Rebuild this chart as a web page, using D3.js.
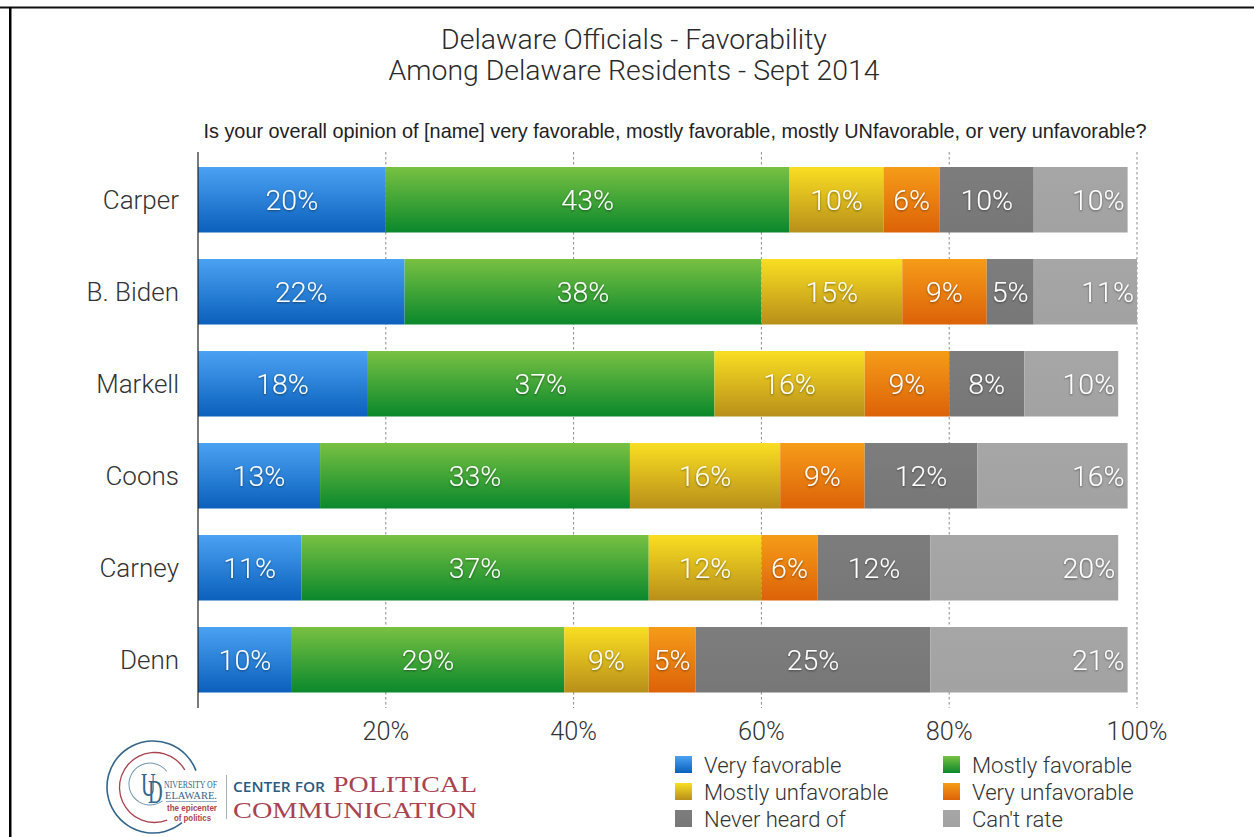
<!DOCTYPE html>
<html>
<head>
<meta charset="utf-8">
<script src="https://cdn.jsdelivr.net/npm/d3@7"></script>
<style>
html,body{margin:0;padding:0;background:#fff;overflow:hidden}
svg{display:block}
</style>
</head>
<body>
<svg id="chart" width="1254" height="837"></svg>
<script>
const names = ["Carper","B. Biden","Markell","Coons","Carney","Denn"];
const seriesNames = ["Very favorable","Mostly favorable","Mostly unfavorable","Very unfavorable","Never heard of","Can't rate"];
const veryFavorable = [20,22,18,13,11,10];
const mostlyFavorable = [43,38,37,33,37,29];
const mostlyUnfavorable = [10,15,16,16,12,9];
const veryUnfavorable = [6,9,9,9,6,5];
const neverHeard = [10,5,8,12,12,25];
const cantRate = [10,11,10,16,20,21];
const tickValues = [20,40,60,80,100];
const gradTop = ["#4ba2f3","#78c142","#fade22","#f69c18","#7d7d7d","#a6a6a6"];
const gradBot = ["#0a60bb","#0a882c","#b88f1a","#dc6208","#777777","#a2a2a2"];

const allSeries = [veryFavorable,mostlyFavorable,mostlyUnfavorable,veryUnfavorable,neverHeard,cantRate];
const rows = names.map((n,i)=>{
  let acc=0;
  return {name:n, segs:allSeries.map((s,k)=>{const d={k,v:s[i],x0:acc,x1:acc+s[i]};acc+=s[i];return d;})};
});

const svg = d3.select("#chart");
const thin = "Roboto, 'Liberation Sans', sans-serif";
const defs = svg.append("defs");
gradTop.forEach((c,i)=>{
  const g = defs.append("linearGradient").attr("id","g"+i).attr("x1",0).attr("x2",0).attr("y1",0).attr("y2",1);
  g.append("stop").attr("offset","0%").attr("stop-color",c);
  g.append("stop").attr("offset","100%").attr("stop-color",gradBot[i]);
});
const shadow = defs.append("filter").attr("id","ts").attr("x","-20%").attr("y","-20%").attr("width","140%").attr("height","140%");
shadow.append("feDropShadow").attr("dx",0).attr("dy",1).attr("stdDeviation",1).attr("flood-color","#000").attr("flood-opacity",0.45);

// frame
svg.append("rect").attr("x",0).attr("y",6.5).attr("width",1254).attr("height",2).attr("fill","#111");
svg.append("rect").attr("x",9).attr("y",7).attr("width",2.5).attr("height",830).attr("fill","#000");

// titles
const title = svg.append("g").attr("text-anchor","middle").attr("fill","#2a2a2a")
  .style("font-family",thin).style("font-weight",300).style("font-size","28.4px");
title.append("text").attr("x",634).attr("y",48.5).text("Delaware Officials - Favorability");
title.append("text").attr("x",634).attr("y",80).text("Among Delaware Residents - Sept 2014");
svg.append("text").attr("x",675).attr("y",138).attr("text-anchor","middle").attr("fill","#222")
  .style("font-family","'Liberation Sans', sans-serif").style("font-size","19.85px")
  .text("Is your overall opinion of [name] very favorable, mostly favorable, mostly UNfavorable, or very unfavorable?");

// scales
const x = d3.scaleLinear().domain([0,100]).range([198,1137]);
const y = d3.scaleBand().domain(names).range([152,707.5]).paddingInner(0.288).paddingOuter(0.163);

// grid
svg.append("g").selectAll("line").data(tickValues).join("line")
  .attr("x1",d=>x(d)).attr("x2",d=>x(d)).attr("y1",152).attr("y2",708)
  .attr("stroke","#8a8a8a").attr("stroke-width",1).attr("stroke-dasharray","2.5 2.5");

// bars
const row = svg.append("g").selectAll("g").data(rows).join("g")
  .attr("transform",d=>`translate(0,${y(d.name)})`);
row.selectAll("rect").data(d=>d.segs).join("rect")
  .attr("x",d=>x(d.x0)).attr("width",d=>x(d.x1)-x(d.x0))
  .attr("y",0).attr("height",y.bandwidth())
  .attr("fill",d=>`url(#g${d.k})`);
row.selectAll("text").data(d=>d.segs).join("text")
  .attr("x",d=>d.k===5 ? x(d.x1)-3 : (x(d.x0)+x(d.x1))/2)
  .attr("text-anchor",d=>d.k===5?"end":"middle")
  .attr("y",y.bandwidth()/2+10)
  .attr("fill","#fff").attr("filter","url(#ts)")
  .style("font-family",thin).style("font-weight",300).style("font-size","28.5px")
  .text(d=>d.v+"%");

// y axis line + category labels
svg.append("line").attr("x1",198).attr("x2",198).attr("y1",152).attr("y2",708).attr("stroke","#222").attr("stroke-width",1.2);
svg.append("g").selectAll("text").data(names).join("text")
  .attr("x",179).attr("y",d=>y(d)+y.bandwidth()/2+9)
  .attr("text-anchor","end").attr("fill","#333")
  .style("font-family",thin).style("font-weight",300).style("font-size","26px")
  .text(d=>d);

// x tick labels
svg.append("g").selectAll("text").data(tickValues).join("text")
  .attr("x",d=>x(d)).attr("y",740).attr("text-anchor","middle").attr("fill","#333")
  .style("font-family",thin).style("font-weight",300).style("font-size","25.3px")
  .text(d=>d+"%");

// legend
const legX = [675,943], legY = [756,783,810];
const leg = svg.append("g").selectAll("g").data(seriesNames).join("g")
  .attr("transform",(d,i)=>`translate(${legX[i%2]},${legY[Math.floor(i/2)]})`);
leg.append("rect").attr("width",17).attr("height",17).attr("fill",(d,i)=>`url(#g${i})`);
leg.append("text").attr("x",29).attr("y",17).attr("fill","#333")
  .style("font-family",thin).style("font-weight",300).style("font-size","22.1px")
  .text(d=>d);

// logo
const logo = svg.append("g");
const navy="#34658c", red="#a8434f";
const arc=(cx,cy,r,a0,a1,col,w)=>logo.append("path")
  .attr("d",d3.arc()({innerRadius:r-w/2,outerRadius:r+w/2,startAngle:a0,endAngle:a1}))
  .attr("transform",`translate(${cx},${cy})`).attr("fill",col);
arc(153,787,46,2.46,7.49,navy,1.6);
arc(154.5,787.5,35,2.77,7.33,red,1.3);
arc(150,784,21,2.5,7.2,"#6f97b2",1);
const serif="'Liberation Serif', serif";
const sx=0.6;
logo.append("text").attr("transform",`scale(${sx},1)`).attr("fill",navy)
  .style("font-family",serif).style("font-size","34px")
  .attr("x",`${141/sx} ${148/sx}`).attr("y","796 803").text("UD");
const small=(t,px,py,fs,len)=>logo.append("text").attr("x",px).attr("y",py).attr("fill",navy)
  .style("font-family",serif).style("font-size",fs)
  .attr("textLength",len).attr("lengthAdjust","spacingAndGlyphs").text(t);
small("NIVERSITY OF",164,787.5,"10.5px",53);
small("ELAWARE.",165,799,"10.5px",52);
logo.append("line").attr("x1",166).attr("x2",217).attr("y1",801.5).attr("y2",801.5).attr("stroke","#8fb0c6");
const tag=(t,px,py,len)=>logo.append("text").attr("x",px).attr("y",py).attr("fill",red)
  .style("font-family","'Liberation Sans',sans-serif").style("font-weight",700).style("font-size","8.5px")
  .attr("textLength",len).attr("lengthAdjust","spacingAndGlyphs").text(t);
tag("the epicenter",167,811,50);
tag("of politics",174,821,37);
logo.append("line").attr("x1",226.5).attr("x2",226.5).attr("y1",775).attr("y2",819).attr("stroke","#9fb2c2");
logo.append("text").attr("x",233).attr("y",791.5).attr("fill","#2b5b80").style("font-family","'Open Sans',sans-serif").style("font-weight",600).style("font-size","14.5px").attr("textLength",92).attr("lengthAdjust","spacingAndGlyphs").text("CENTER FOR");
logo.append("text").attr("x",333).attr("y",791.5).attr("fill",red).style("font-family",serif).style("font-size","23.5px").attr("textLength",144).attr("lengthAdjust","spacingAndGlyphs").text("POLITICAL");
logo.append("text").attr("x",233).attr("y",818).attr("fill",red).style("font-family",serif).style("font-size","23.5px").attr("textLength",244).attr("lengthAdjust","spacingAndGlyphs").text("COMMUNICATION");
</script>
</body>
</html>
